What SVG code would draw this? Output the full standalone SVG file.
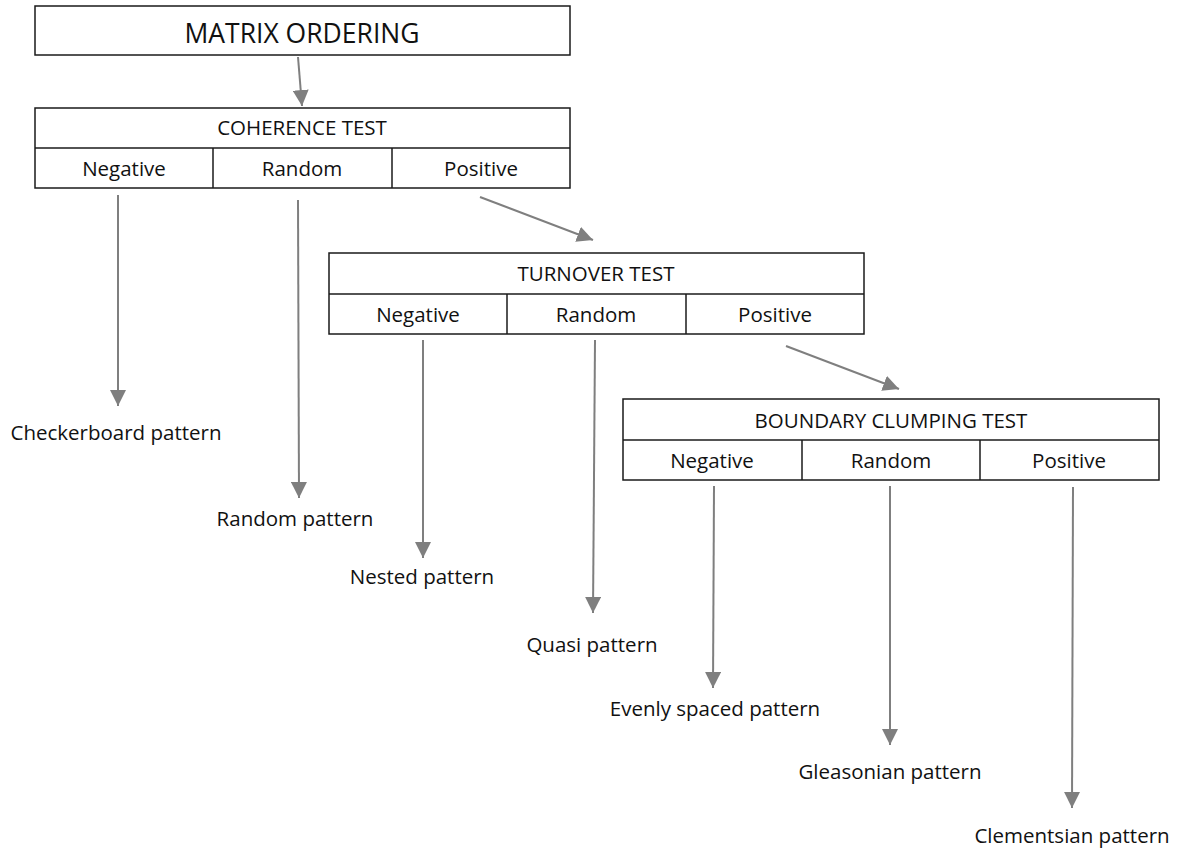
<svg xmlns="http://www.w3.org/2000/svg" width="1179" height="850" viewBox="0 0 1179 850">
<style>
  .box { fill: #ffffff; stroke: #1a1a1a; stroke-width: 1.5; }
  .div { stroke: #1a1a1a; stroke-width: 1.5; }
  .t { font-family: "Open Sans", "Noto Sans", sans-serif; fill: #111111; text-anchor: middle; }
  .title { font-size: 26.5px; }
  .hdr { font-size: 20.5px; }
  .lbl { font-size: 20.5px; }
  .conn line { stroke: #7f7f7f; stroke-width: 2; marker-end: url(#ah); }
</style>
<defs>
  <marker id="ah" viewBox="0 0 16 16" refX="16" refY="8" markerWidth="16" markerHeight="16" markerUnits="userSpaceOnUse" orient="auto">
    <path d="M0,0 L16,8 L0,16 Z" fill="#7f7f7f"/>
  </marker>
</defs>
<rect width="1179" height="850" fill="#ffffff"/>

<g id="matrix-ordering">
  <rect class="box" x="35" y="6" width="535" height="49"/>
  <text class="t title" x="302" y="43">MATRIX ORDERING</text>
</g>

<g id="coherence-test">
  <rect class="box" x="35" y="108" width="535" height="80"/>
  <line class="div" x1="35" y1="148" x2="570" y2="148"/>
  <line class="div" x1="213" y1="148" x2="213" y2="188"/>
  <line class="div" x1="392" y1="148" x2="392" y2="188"/>
  <text class="t hdr" x="302" y="135">COHERENCE TEST</text>
  <text class="t lbl" x="124" y="176">Negative</text>
  <text class="t lbl" x="302" y="176">Random</text>
  <text class="t lbl" x="481" y="176">Positive</text>
</g>

<g id="turnover-test">
  <rect class="box" x="329" y="253" width="535" height="81"/>
  <line class="div" x1="329" y1="294" x2="864" y2="294"/>
  <line class="div" x1="507" y1="294" x2="507" y2="334"/>
  <line class="div" x1="686" y1="294" x2="686" y2="334"/>
  <text class="t hdr" x="596" y="281">TURNOVER TEST</text>
  <text class="t lbl" x="418" y="322">Negative</text>
  <text class="t lbl" x="596" y="322">Random</text>
  <text class="t lbl" x="775" y="322">Positive</text>
</g>

<g id="boundary-clumping-test">
  <rect class="box" x="623" y="399" width="536" height="81"/>
  <line class="div" x1="623" y1="440" x2="1159" y2="440"/>
  <line class="div" x1="802" y1="440" x2="802" y2="480"/>
  <line class="div" x1="980" y1="440" x2="980" y2="480"/>
  <text class="t hdr" x="891" y="428">BOUNDARY CLUMPING TEST</text>
  <text class="t lbl" x="712" y="468">Negative</text>
  <text class="t lbl" x="891" y="468">Random</text>
  <text class="t lbl" x="1069" y="468">Positive</text>
</g>

<g id="checkerboard-pattern"><text class="t lbl" x="116" y="440">Checkerboard pattern</text></g>
<g id="random-pattern"><text class="t lbl" x="295" y="526">Random pattern</text></g>
<g id="nested-pattern"><text class="t lbl" x="422" y="584">Nested pattern</text></g>
<g id="quasi-pattern"><text class="t lbl" x="592" y="652">Quasi pattern</text></g>
<g id="evenly-spaced-pattern"><text class="t lbl" x="715" y="716">Evenly spaced pattern</text></g>
<g id="gleasonian-pattern"><text class="t lbl" x="890" y="779">Gleasonian pattern</text></g>
<g id="clementsian-pattern"><text class="t lbl" x="1072" y="843">Clementsian pattern</text></g>

<g id="connectors" class="conn">
  <line x1="298" y1="57" x2="302" y2="106"/>
  <line x1="118" y1="195" x2="118" y2="406"/>
  <line x1="298" y1="200" x2="299" y2="498"/>
  <line x1="480" y1="197" x2="593" y2="240"/>
  <line x1="423" y1="340" x2="423" y2="558"/>
  <line x1="595" y1="340" x2="593" y2="613"/>
  <line x1="786" y1="346" x2="899" y2="389"/>
  <line x1="714" y1="486" x2="713" y2="688"/>
  <line x1="890" y1="486" x2="890" y2="745"/>
  <line x1="1073" y1="487" x2="1072" y2="808"/>
</g>
</svg>
